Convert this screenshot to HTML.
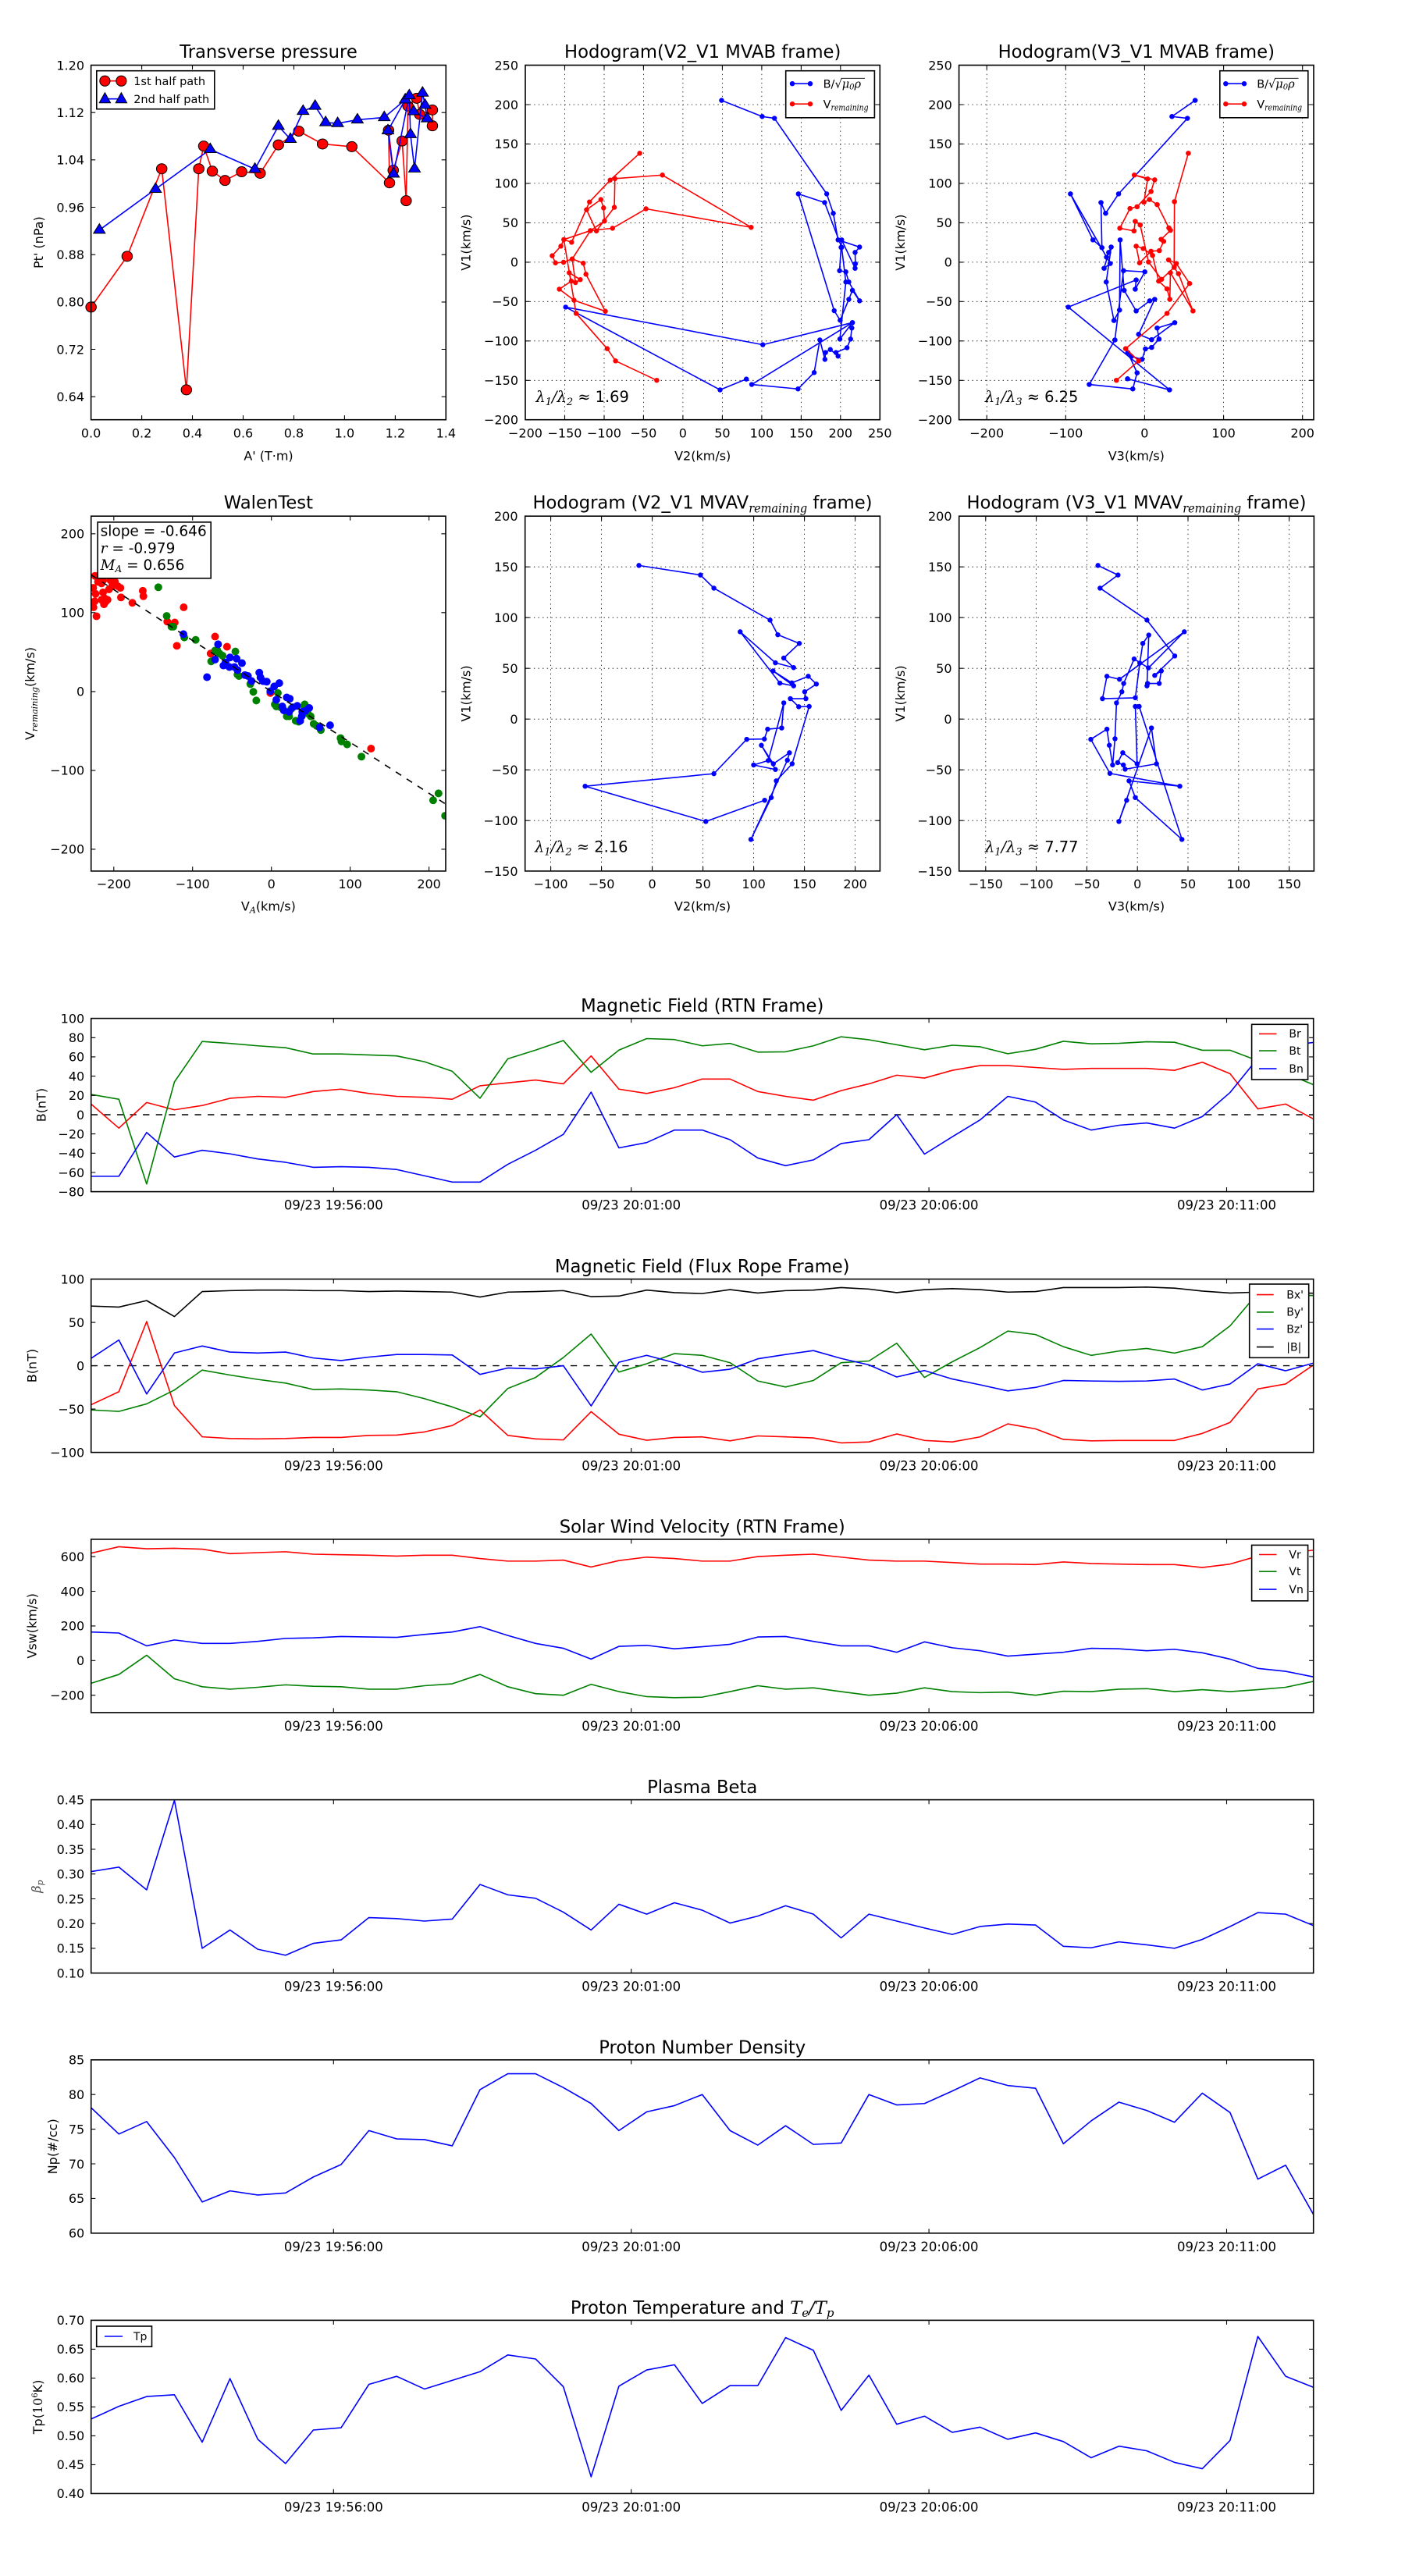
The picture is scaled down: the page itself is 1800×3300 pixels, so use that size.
<!DOCTYPE html>
<html>
<head>
<meta charset="utf-8">
<style>
html,body{margin:0;padding:0;background:#fff;}
svg{display:block;}
text{font-family:"DejaVu Sans","Liberation Sans",sans-serif;fill:#000;}
.t{font-size:16px;}
.ts{font-size:16.5px;}
.ti{font-size:22.7px;text-anchor:middle;}
.yl{font-size:16px;text-anchor:end;}
.xl{font-size:16px;text-anchor:middle;}
.xt{font-size:16.5px;text-anchor:middle;}
.lab{font-size:16px;text-anchor:middle;}
.m{font-family:"DejaVu Serif","Liberation Serif",serif;font-style:italic;}
.fr{fill:none;stroke:#000;stroke-width:1.6;}
.tk{fill:none;stroke:#000;stroke-width:1.1;}
.gr{fill:none;stroke:#000;stroke-width:0.8;stroke-dasharray:1.4 4.2;}
.ln{fill:none;stroke-width:1.6;stroke-linejoin:round;}
.lg{fill:#fff;stroke:#000;stroke-width:1.6;}
.lgt{font-size:14px;}
</style>
</head>
<body>
<svg width="1800" height="3300" viewBox="0 0 1800 3300" xmlns="http://www.w3.org/2000/svg">
<defs>
<marker id="dB" markerUnits="userSpaceOnUse" markerWidth="24" markerHeight="24" refX="12" refY="12" overflow="visible"><circle cx="12" cy="12" r="8.4" fill="#00f"/></marker>
<marker id="dR" markerUnits="userSpaceOnUse" markerWidth="24" markerHeight="24" refX="12" refY="12" overflow="visible"><circle cx="12" cy="12" r="8.4" fill="#f00"/></marker>
<marker id="cR" markerUnits="userSpaceOnUse" markerWidth="40" markerHeight="40" refX="20" refY="20" overflow="visible"><circle cx="20" cy="20" r="17" fill="#f00" stroke="#000" stroke-width="2.6"/></marker>
<marker id="tB" markerUnits="userSpaceOnUse" markerWidth="40" markerHeight="40" refX="20" refY="21" overflow="visible"><path d="M20 0L39 32H1Z" fill="#00f" stroke="#000" stroke-width="2.6"/></marker>
<clipPath id="c1"><rect x="116.7" y="1304.6" width="1566" height="222"/></clipPath>
<clipPath id="c2"><rect x="116.7" y="1638.6" width="1566" height="222"/></clipPath>
<clipPath id="c3"><rect x="116.7" y="1971.9" width="1566" height="222"/></clipPath>
<clipPath id="c4"><rect x="116.7" y="2305.6" width="1566" height="222"/></clipPath>
<clipPath id="c5"><rect x="116.7" y="2638.8" width="1566" height="222"/></clipPath>
<clipPath id="c6"><rect x="116.7" y="2972.4" width="1566" height="222"/></clipPath>
<clipPath id="cw"><rect x="116.7" y="661.2" width="454.3" height="454.7"/></clipPath>
</defs>
<rect x="0" y="0" width="1800" height="3300" fill="#fff"/>

<!-- ================= TOP ROW ================= -->
<!-- Panel 1: Transverse pressure -->
<text class="ti" x="344" y="74">Transverse pressure</text>
<g transform="matrix(0.39541,0,0,0.3827,0,0)">
<polyline class="ln" vector-effect="non-scaling-stroke" stroke="#f00" marker-start="url(#cR)" marker-mid="url(#cR)" marker-end="url(#cR)" points="295,1028 412,858 524,565 604,1305 644,565 660,489 688,573 729,604 783,575 843,580 902,485 968,439 1045,482 1140,491 1262,612 1259,436 1274,570 1303,472 1316,672 1322,355 1350,329 1360,383 1401,368 1401,421"/>
<polyline class="ln" vector-effect="non-scaling-stroke" stroke="#00f" marker-start="url(#tB)" marker-mid="url(#tB)" marker-end="url(#tB)" points="322,770 504,633 681,500 826,566 902,422 941,466 982,372 1021,355 1055,410 1094,413 1158,401 1245,393 1313,334 1257,437 1275,582 1326,320 1330,450 1343,565 1369,311 1377,352 1384,397 1340,373"/>
</g>
<rect class="fr" x="116.6" y="83.5" width="454.7" height="454.2"/>
<path class="tk" d="M181.6 537.7v-5.6M246.5 537.7v-5.6M311.5 537.7v-5.6M376.5 537.7v-5.6M441.4 537.7v-5.6M506.4 537.7v-5.6M181.6 83.5v5.6M246.5 83.5v5.6M311.5 83.5v5.6M376.5 83.5v5.6M441.4 83.5v5.6M506.4 83.5v5.6M116.6 144.2h5.6M116.6 204.8h5.6M116.6 265.5h5.6M116.6 326.2h5.6M116.6 386.9h5.6M116.6 447.5h5.6M116.6 508.2h5.6M571.3 144.2h-5.6M571.3 204.8h-5.6M571.3 265.5h-5.6M571.3 326.2h-5.6M571.3 386.9h-5.6M571.3 447.5h-5.6M571.3 508.2h-5.6"/>
<g class="xl"><text class="xl" x="116.6" y="560.5">0.0</text><text class="xl" x="181.6" y="560.5">0.2</text><text class="xl" x="246.5" y="560.5">0.4</text><text class="xl" x="311.5" y="560.5">0.6</text><text class="xl" x="376.5" y="560.5">0.8</text><text class="xl" x="441.4" y="560.5">1.0</text><text class="xl" x="506.4" y="560.5">1.2</text><text class="xl" x="571.3" y="560.5">1.4</text></g>
<text class="yl" x="108" y="89.3">1.20</text><text class="yl" x="108" y="150">1.12</text><text class="yl" x="108" y="210.6">1.04</text><text class="yl" x="108" y="271.3">0.96</text><text class="yl" x="108" y="332">0.88</text><text class="yl" x="108" y="392.7">0.80</text><text class="yl" x="108" y="453.3">0.72</text><text class="yl" x="108" y="514">0.64</text>
<text class="lab" x="344" y="589.5">A' (T·m)</text>
<text class="lab" transform="translate(55,310.6) rotate(-90)">Pt' (nPa)</text>
<rect class="lg" x="123.8" y="90.7" width="151" height="49"/>
<line x1="134.4" y1="103.7" x2="155.4" y2="103.7" stroke="#f00" stroke-width="1.6"/>
<circle cx="134.4" cy="103.7" r="6.6" fill="#f00" stroke="#000"/><circle cx="155.4" cy="103.7" r="6.6" fill="#f00" stroke="#000"/>
<text x="171.2" y="109" style="font-size:14.5px">1st half path</text>
<line x1="134.4" y1="126.7" x2="155.4" y2="126.7" stroke="#00f" stroke-width="1.6"/>
<path d="M134.4 118.7l7.2 13h-14.4zM155.4 118.7l7.2 13h-14.4z" fill="#00f" stroke="#000"/>
<text x="171.2" y="132" style="font-size:14.5px">2nd half path</text>

<!-- Panel 2: Hodogram V2_V1 MVAB -->
<text class="ti" x="900.2" y="74">Hodogram(V2_V1 MVAB frame)</text>
<path class="gr" d="M723.5 83.5V537.7M774 83.5V537.7M824.4 83.5V537.7M874.9 83.5V537.7M925.4 83.5V537.7M975.9 83.5V537.7M1026.4 83.5V537.7M1076.8 83.5V537.7M673 134H1127.3M673 184.4H1127.3M673 234.9H1127.3M673 285.4H1127.3M673 335.9H1127.3M673 386.3H1127.3M673 436.8H1127.3M673 487.3H1127.3"/>
<g transform="matrix(0.3827,0,0,0.3827,580,0)">
<polyline class="ln" vector-effect="non-scaling-stroke" stroke="#00f" marker-start="url(#dB)" marker-mid="url(#dB)" marker-end="url(#dB)" points="900,336 1036,390 1077,396 1252,649 1274,714 1290,803 1362,827 1347,845 1348,883 1347,898 1302,803 1300,828 1295,906 1316,910 1326,944 1362,1007 1338,972 1326,1002 1297,1072 1277,1040 1157,649 1245,678 1302,828 1316,944 1296,1135 1338,1080 1336,1098 1332,1135 1320,1164 1283,1180 1290,1192 1264,1170 1248,1180 1246,1203 1229,1138 1210,1247 1156,1302 1001,1287 1338,1080 1038,1154 378,1028 895,1305 983,1269"/>
<polyline class="ln" vector-effect="non-scaling-stroke" stroke="#f00" marker-start="url(#dR)" marker-mid="url(#dR)" marker-end="url(#dR)" points="626,513 527,603 458,676 398,811 372,802 362,824 333,856 344,880 371,878 400,867 437,881 446,918 511,1042 406,1005 357,968 397,941 390,913 427,936 411,946 400,867 461,772 508,740 505,696 496,668 448,702 481,773 541,694 543,598 702,586 999,761 647,699 535,764 461,772 372,802 413,1049 517,1167 545,1208 683,1273"/>
</g>
<rect class="fr" x="673" y="83.5" width="454.3" height="454.2"/>
<path class="tk" d="M723.5 537.7v-5.6M774 537.7v-5.6M824.4 537.7v-5.6M874.9 537.7v-5.6M925.4 537.7v-5.6M975.9 537.7v-5.6M1026.4 537.7v-5.6M1076.8 537.7v-5.6M723.5 83.5v5.6M774 83.5v5.6M824.4 83.5v5.6M874.9 83.5v5.6M925.4 83.5v5.6M975.9 83.5v5.6M1026.4 83.5v5.6M1076.8 83.5v5.6M673 134h5.6M673 184.4h5.6M673 234.9h5.6M673 285.4h5.6M673 335.9h5.6M673 386.3h5.6M673 436.8h5.6M673 487.3h5.6M1127.3 134h-5.6M1127.3 184.4h-5.6M1127.3 234.9h-5.6M1127.3 285.4h-5.6M1127.3 335.9h-5.6M1127.3 386.3h-5.6M1127.3 436.8h-5.6M1127.3 487.3h-5.6"/>
<text class="xl" x="673" y="560.5">−200</text><text class="xl" x="723.5" y="560.5">−150</text><text class="xl" x="774" y="560.5">−100</text><text class="xl" x="824.4" y="560.5">−50</text><text class="xl" x="874.9" y="560.5">0</text><text class="xl" x="925.4" y="560.5">50</text><text class="xl" x="975.9" y="560.5">100</text><text class="xl" x="1026.4" y="560.5">150</text><text class="xl" x="1076.8" y="560.5">200</text><text class="xl" x="1127.3" y="560.5">250</text>
<text class="yl" x="664" y="89.3">250</text><text class="yl" x="664" y="139.8">200</text><text class="yl" x="664" y="190.2">150</text><text class="yl" x="664" y="240.7">100</text><text class="yl" x="664" y="291.2">50</text><text class="yl" x="664" y="341.7">0</text><text class="yl" x="664" y="392.1">−50</text><text class="yl" x="664" y="442.6">−100</text><text class="yl" x="664" y="493.1">−150</text><text class="yl" x="664" y="543.5">−200</text>
<text class="lab" x="900.2" y="589.5">V2(km/s)</text>
<text class="lab" transform="translate(602.5,310.6) rotate(-90)">V1(km/s)</text>
<text x="686.4" y="515" style="font-size:19.4px"><tspan class="m">λ</tspan><tspan class="m" style="font-size:13px" dy="4">1</tspan><tspan class="m" dy="-4">/</tspan><tspan class="m">λ</tspan><tspan class="m" style="font-size:13px" dy="4">2</tspan><tspan class="m" dy="-4"> ≈ </tspan><tspan>1.69</tspan></text>
<rect class="lg" x="1006.7" y="90.7" width="113.7" height="60.1"/>
<line x1="1015" y1="107.2" x2="1038" y2="107.2" stroke="#00f" stroke-width="1.6"/><circle cx="1015" cy="107.2" r="3.2" fill="#00f"/><circle cx="1038" cy="107.2" r="3.2" fill="#00f"/>
<text x="1054.6" y="112.5" style="font-size:14.5px">B/<tspan style="font-family:'DejaVu Serif',serif">√</tspan><tspan class="m">μ</tspan><tspan class="m" style="font-size:10px" dy="2">0</tspan><tspan class="m" dy="-2">ρ</tspan></text>
<line x1="1077.5" y1="100.3" x2="1108" y2="100.3" stroke="#000" stroke-width="0.8"/>
<line x1="1015" y1="133.2" x2="1038" y2="133.2" stroke="#f00" stroke-width="1.6"/><circle cx="1015" cy="133.2" r="3.2" fill="#f00"/><circle cx="1038" cy="133.2" r="3.2" fill="#f00"/>
<text x="1054.6" y="138.5" style="font-size:14.5px">V<tspan class="m" style="font-size:11px" dy="3" textLength="48" lengthAdjust="spacingAndGlyphs">remaining</tspan></text>

<!-- Panel 3: Hodogram V3_V1 MVAB -->
<text class="ti" x="1455.8" y="74">Hodogram(V3_V1 MVAB frame)</text>
<path class="gr" d="M1264.2 83.5V537.7M1365.3 83.5V537.7M1466.4 83.5V537.7M1567.6 83.5V537.7M1668.7 83.5V537.7M1228.6 134H1683M1228.6 184.4H1683M1228.6 234.9H1683M1228.6 285.4H1683M1228.6 335.9H1683M1228.6 386.3H1683M1228.6 436.8H1683M1228.6 487.3H1683"/>
<g transform="matrix(0.39541,0,0,0.3827,1180,0)">
<polyline class="ln" vector-effect="non-scaling-stroke" stroke="#00f" marker-start="url(#dB)" marker-mid="url(#dB)" marker-end="url(#dB)" points="888,336 813,390 863,396 640,649 598,714 583,678 586,829 557,803 484,649 613,882 593,898 608,845 601,861 616,827 600,944 625,1073 643,1038 645,803 658,972 697,1041 741,1007 757,1002 705,1119 747,1137 822,1080 765,1098 771,1135 747,1163 727,1168 716,1203 681,1193 670,1180 700,1248 686,1302 545,1287 628,1138 656,906 725,910 694,968 697,937 477,1028 805,1305 669,1268"/>
<polyline class="ln" vector-effect="non-scaling-stroke" stroke="#f00" marker-start="url(#dR)" marker-mid="url(#dR)" marker-end="url(#dR)" points="633,1273 705,1208 663,1167 797,1049 870,949 827,882 802,870 834,916 881,1041 808,913 806,1002 797,967 770,941 750,855 720,832 697,824 708,880 745,841 772,839 786,808 778,801 808,771 803,763 765,685 740,668 722,677 734,599 691,586 757,602 745,641 700,692 677,698 644,764 690,773 694,741 710,753 737,877 779,935 820,895 821,675 866,513"/>
</g>
<rect class="fr" x="1228.6" y="83.5" width="454.4" height="454.2"/>
<path class="tk" d="M1264.2 537.7v-5.6M1365.3 537.7v-5.6M1466.4 537.7v-5.6M1567.6 537.7v-5.6M1668.7 537.7v-5.6M1264.2 83.5v5.6M1365.3 83.5v5.6M1466.4 83.5v5.6M1567.6 83.5v5.6M1668.7 83.5v5.6M1228.6 134h5.6M1228.6 184.4h5.6M1228.6 234.9h5.6M1228.6 285.4h5.6M1228.6 335.9h5.6M1228.6 386.3h5.6M1228.6 436.8h5.6M1228.6 487.3h5.6M1683 134h-5.6M1683 184.4h-5.6M1683 234.9h-5.6M1683 285.4h-5.6M1683 335.9h-5.6M1683 386.3h-5.6M1683 436.8h-5.6M1683 487.3h-5.6"/>
<text class="xl" x="1264.2" y="560.5">−200</text><text class="xl" x="1365.3" y="560.5">−100</text><text class="xl" x="1466.4" y="560.5">0</text><text class="xl" x="1567.6" y="560.5">100</text><text class="xl" x="1668.7" y="560.5">200</text>
<text class="yl" x="1219.8" y="89.3">250</text><text class="yl" x="1219.8" y="139.8">200</text><text class="yl" x="1219.8" y="190.2">150</text><text class="yl" x="1219.8" y="240.7">100</text><text class="yl" x="1219.8" y="291.2">50</text><text class="yl" x="1219.8" y="341.7">0</text><text class="yl" x="1219.8" y="392.1">−50</text><text class="yl" x="1219.8" y="442.6">−100</text><text class="yl" x="1219.8" y="493.1">−150</text><text class="yl" x="1219.8" y="543.5">−200</text>
<text class="lab" x="1455.8" y="589.5">V3(km/s)</text>
<text class="lab" transform="translate(1159,310.6) rotate(-90)">V1(km/s)</text>
<text x="1261.9" y="515" style="font-size:19.4px"><tspan class="m">λ</tspan><tspan class="m" style="font-size:13px" dy="4">1</tspan><tspan class="m" dy="-4">/</tspan><tspan class="m">λ</tspan><tspan class="m" style="font-size:13px" dy="4">3</tspan><tspan class="m" dy="-4"> ≈ </tspan><tspan>6.25</tspan></text>
<rect class="lg" x="1562.8" y="90.7" width="113" height="60.1"/>
<line x1="1570.3" y1="107.2" x2="1594" y2="107.2" stroke="#00f" stroke-width="1.6"/><circle cx="1570.3" cy="107.2" r="3.2" fill="#00f"/><circle cx="1594" cy="107.2" r="3.2" fill="#00f"/>
<text x="1610.2" y="112.5" style="font-size:14.5px">B/<tspan style="font-family:'DejaVu Serif',serif">√</tspan><tspan class="m">μ</tspan><tspan class="m" style="font-size:10px" dy="2">0</tspan><tspan class="m" dy="-2">ρ</tspan></text>
<line x1="1633" y1="100.3" x2="1663.5" y2="100.3" stroke="#000" stroke-width="0.8"/>
<line x1="1570.3" y1="133.2" x2="1594" y2="133.2" stroke="#f00" stroke-width="1.6"/><circle cx="1570.3" cy="133.2" r="3.2" fill="#f00"/><circle cx="1594" cy="133.2" r="3.2" fill="#f00"/>
<text x="1610.2" y="138.5" style="font-size:14.5px">V<tspan class="m" style="font-size:11px" dy="3" textLength="48" lengthAdjust="spacingAndGlyphs">remaining</tspan></text>

<!-- ================= ROW 2 ================= -->
<!-- Walen test -->
<text class="ti" x="343.9" y="651.7">WalenTest</text>
<g clip-path="url(#cw)">
<g transform="matrix(0.3827,0,0,0.3827,0,600)">
<path fill="none" stroke="#f00" stroke-width="26" stroke-linecap="round" d="M312 400h0M318 360h0M323 495h0M317 445h0M313 465h0M328 380h0M340 385h0M345 415h0M350 435h0M355 445h0M360 440h0M365 405h0M375 395h0M385 380h0M395 395h0M403 400h0M405 432h0M443 450h0M478 410h0M480 428h0M615 465h0M560 513h0M585 516h0M592 594h0M720 563h0M760 597h0M705 620h0M905 752h0M1242 938h0M330 360h0M345 375h0M370 375h0M380 370h0M340 440h0M348 455h0M320 420h0"/>
<path fill="none" stroke="#008000" stroke-width="26" stroke-linecap="round" d="M530 398h0M558 494h0M574 530h0M580 530h0M617 566h0M655 574h0M707 646h0M745 627h0M788 613h0M727 608h0M795 690h0M838 722h0M848 748h0M858 777h0M920 790h0M925 797h0M930 752h0M940 800h0M968 830h0M990 845h0M1000 848h0M1020 790h0M1040 830h0M1050 855h0M1060 862h0M1074 876h0M1140 903h0M1143 914h0M1162 924h0M1210 965h0M1450 1111h0M1468 1088h0M1490 1163h0M1020 800h0M1030 820h0M960 830h0M975 805h0M800 695h0M720 610h0M735 620h0"/>
<path fill="none" stroke="#00f" stroke-width="26" stroke-linecap="round" d="M614 555h0M730 589h0M693 699h0M720 640h0M748 660h0M770 633h0M792 637h0M810 652h0M795 675h0M820 692h0M768 665h0M842 712h0M868 684h0M880 712h0M872 700h0M893 714h0M905 746h0M918 730h0M935 719h0M925 775h0M945 797h0M960 767h0M970 771h0M968 815h0M980 800h0M995 795h0M1005 845h0M1012 815h0M1035 802h0M1070 867h0M1105 860h0M1010 830h0M1022 812h0M950 810h0M830 695h0M785 665h0M755 650h0"/>
</g>
<line x1="116.7" y1="736.5" x2="571" y2="1030.1" stroke="#000" stroke-width="1.6" stroke-dasharray="8.3 8.3"/>
</g>
<rect class="fr" x="116.7" y="661.2" width="454.3" height="454.7"/>
<path class="tk" d="M145.8 1115.9v-5.6M246.7 1115.9v-5.6M347.7 1115.9v-5.6M448.6 1115.9v-5.6M549.6 1115.9v-5.6M145.8 661.2v5.6M246.7 661.2v5.6M347.7 661.2v5.6M448.6 661.2v5.6M549.6 661.2v5.6M116.7 683.8h5.6M116.7 784.8h5.6M116.7 885.9h5.6M116.7 986.9h5.6M116.7 1087.9h5.6M571 683.8h-5.6M571 784.8h-5.6M571 885.9h-5.6M571 986.9h-5.6M571 1087.9h-5.6"/>
<text class="xl" x="145.8" y="1138">−200</text><text class="xl" x="246.7" y="1138">−100</text><text class="xl" x="347.7" y="1138">0</text><text class="xl" x="448.6" y="1138">100</text><text class="xl" x="549.6" y="1138">200</text>
<text class="yl" x="108.2" y="689.6">200</text><text class="yl" x="108.2" y="790.6">100</text><text class="yl" x="108.2" y="891.7">0</text><text class="yl" x="108.2" y="992.7">−100</text><text class="yl" x="108.2" y="1093.7">−200</text>
<text class="lab" x="343.9" y="1166.5">V<tspan class="m" style="font-size:11px" dy="3">A</tspan><tspan dy="-3">(km/s)</tspan></text>
<text class="lab" transform="translate(44,888.5) rotate(-90)">V<tspan class="m" style="font-size:11px" dy="4">remaining</tspan><tspan dy="-4">(km/s)</tspan></text>
<rect class="lg" x="125.1" y="668.9" width="145.1" height="71.9"/>
<text x="128.6" y="686.5" style="font-size:18.5px">slope = -0.646</text>
<text x="128.6" y="708.3" style="font-size:18.5px"><tspan class="m">r</tspan> = -0.979</text>
<text x="128.6" y="730.1" style="font-size:18.5px"><tspan class="m">M</tspan><tspan class="m" style="font-size:12px" dy="3">A</tspan><tspan dy="-3"> = 0.656</tspan></text>

<!-- Row2 middle: Hodogram V2_V1 MVAV -->
<text class="ti" x="900" y="651.7">Hodogram (V2_V1 MVAV<tspan class="m" style="font-size:16px" dy="5" textLength="75" lengthAdjust="spacingAndGlyphs">remaining</tspan><tspan dy="-5"> frame)</tspan></text>
<path class="gr" d="M705.6 661.2V1115.9M770.6 661.2V1115.9M835.6 661.2V1115.9M900.6 661.2V1115.9M965.6 661.2V1115.9M1030.6 661.2V1115.9M1095.6 661.2V1115.9M672.7 726.2H1127.4M672.7 791.2H1127.4M672.7 856.2H1127.4M672.7 921.2H1127.4M672.7 986.2H1127.4M672.7 1051.2H1127.4"/>
<g transform="matrix(0.3827,0,0,0.3827,600,600)">
<polyline class="ln" vector-effect="non-scaling-stroke" stroke="#00f" marker-start="url(#dB)" marker-mid="url(#dB)" marker-end="url(#dB)" points="571,325 777,357 822,401 1010,508 1036,557 1108,586 1056,635 1089,667 1028,651 910,547 1043,719 1089,728 1020,678 1083,718 1138,696 1165,722 1126,748 1130,771 1078,771 1106,798 1141,797 1084,989 1031,1046 1014,1102 946,1242 1068,977 1075,952 1021,989 981,927 1028,1008 955,993 1004,978 1056,785 1049,869 1002,873 991,906 932,907 822,1022 391,1064 795,1182 992,1111"/>
</g>
<rect class="fr" x="672.7" y="661.2" width="454.7" height="454.7"/>
<path class="tk" d="M705.6 1115.9v-5.6M770.6 1115.9v-5.6M835.6 1115.9v-5.6M900.6 1115.9v-5.6M965.6 1115.9v-5.6M1030.6 1115.9v-5.6M1095.6 1115.9v-5.6M705.6 661.2v5.6M770.6 661.2v5.6M835.6 661.2v5.6M900.6 661.2v5.6M965.6 661.2v5.6M1030.6 661.2v5.6M1095.6 661.2v5.6M672.7 726.2h5.6M672.7 791.2h5.6M672.7 856.2h5.6M672.7 921.2h5.6M672.7 986.2h5.6M672.7 1051.2h5.6M1127.4 726.2h-5.6M1127.4 791.2h-5.6M1127.4 856.2h-5.6M1127.4 921.2h-5.6M1127.4 986.2h-5.6M1127.4 1051.2h-5.6"/>
<text class="xl" x="705.6" y="1138">−100</text><text class="xl" x="770.6" y="1138">−50</text><text class="xl" x="835.6" y="1138">0</text><text class="xl" x="900.6" y="1138">50</text><text class="xl" x="965.6" y="1138">100</text><text class="xl" x="1030.6" y="1138">150</text><text class="xl" x="1095.6" y="1138">200</text>
<text class="yl" x="663.5" y="667">200</text><text class="yl" x="663.5" y="732">150</text><text class="yl" x="663.5" y="797">100</text><text class="yl" x="663.5" y="862">50</text><text class="yl" x="663.5" y="927">0</text><text class="yl" x="663.5" y="992">−50</text><text class="yl" x="663.5" y="1057">−100</text><text class="yl" x="663.5" y="1122">−150</text>
<text class="lab" x="900" y="1166.5">V2(km/s)</text>
<text class="lab" transform="translate(602.5,888.5) rotate(-90)">V1(km/s)</text>
<text x="685" y="1091.5" style="font-size:19.4px"><tspan class="m">λ</tspan><tspan class="m" style="font-size:13px" dy="4">1</tspan><tspan class="m" dy="-4">/</tspan><tspan class="m">λ</tspan><tspan class="m" style="font-size:13px" dy="4">2</tspan><tspan class="m" dy="-4"> ≈ </tspan><tspan>2.16</tspan></text>

<!-- Row2 right: Hodogram V3_V1 MVAV -->
<text class="ti" x="1456" y="651.7">Hodogram (V3_V1 MVAV<tspan class="m" style="font-size:16px" dy="5" textLength="75" lengthAdjust="spacingAndGlyphs">remaining</tspan><tspan dy="-5"> frame)</tspan></text>
<path class="gr" d="M1262.8 661.2V1115.9M1327.6 661.2V1115.9M1392.4 661.2V1115.9M1457.2 661.2V1115.9M1522 661.2V1115.9M1586.8 661.2V1115.9M1651.6 661.2V1115.9M1228.7 726.2H1683.4M1228.7 791.2H1683.4M1228.7 856.2H1683.4M1228.7 921.2H1683.4M1228.7 986.2H1683.4M1228.7 1051.2H1683.4"/>
<g transform="matrix(0.3827,0,0,0.3827,1200,600)">
<polyline class="ln" vector-effect="non-scaling-stroke" stroke="#00f" marker-start="url(#dB)" marker-mid="url(#dB)" marker-end="url(#dB)" points="540,325 607,357 547,401 704,508 797,628 730,693 752,678 745,720 706,720 704,728 710,558 690,586 680,652 665,768 555,771 570,696 612,706 829,547 709,668 661,638 626,720 620,748 602,785 597,905 589,993 578,927 570,873 516,907 580,1021 814,1064 644,1046 665,1102 821,1242 678,797 665,797 671,989 623,952 606,985 625,993 631,1007 736,989 719,869 610,1182 636,1111"/>
</g>
<rect class="fr" x="1228.7" y="661.2" width="454.7" height="454.7"/>
<path class="tk" d="M1262.8 1115.9v-5.6M1327.6 1115.9v-5.6M1392.4 1115.9v-5.6M1457.2 1115.9v-5.6M1522 1115.9v-5.6M1586.8 1115.9v-5.6M1651.6 1115.9v-5.6M1262.8 661.2v5.6M1327.6 661.2v5.6M1392.4 661.2v5.6M1457.2 661.2v5.6M1522 661.2v5.6M1586.8 661.2v5.6M1651.6 661.2v5.6M1228.7 726.2h5.6M1228.7 791.2h5.6M1228.7 856.2h5.6M1228.7 921.2h5.6M1228.7 986.2h5.6M1228.7 1051.2h5.6M1683.4 726.2h-5.6M1683.4 791.2h-5.6M1683.4 856.2h-5.6M1683.4 921.2h-5.6M1683.4 986.2h-5.6M1683.4 1051.2h-5.6"/>
<text class="xl" x="1262.8" y="1138">−150</text><text class="xl" x="1327.6" y="1138">−100</text><text class="xl" x="1392.4" y="1138">−50</text><text class="xl" x="1457.2" y="1138">0</text><text class="xl" x="1522" y="1138">50</text><text class="xl" x="1586.8" y="1138">100</text><text class="xl" x="1651.6" y="1138">150</text>
<text class="yl" x="1219.5" y="667">200</text><text class="yl" x="1219.5" y="732">150</text><text class="yl" x="1219.5" y="797">100</text><text class="yl" x="1219.5" y="862">50</text><text class="yl" x="1219.5" y="927">0</text><text class="yl" x="1219.5" y="992">−50</text><text class="yl" x="1219.5" y="1057">−100</text><text class="yl" x="1219.5" y="1122">−150</text>
<text class="lab" x="1456" y="1166.5">V3(km/s)</text>
<text class="lab" transform="translate(1159,888.5) rotate(-90)">V1(km/s)</text>
<text x="1262" y="1091.5" style="font-size:19.4px"><tspan class="m">λ</tspan><tspan class="m" style="font-size:13px" dy="4">1</tspan><tspan class="m" dy="-4">/</tspan><tspan class="m">λ</tspan><tspan class="m" style="font-size:13px" dy="4">3</tspan><tspan class="m" dy="-4"> ≈ </tspan><tspan>7.77</tspan></text>

<!-- ================= TIME SERIES ================= -->
<!-- TS1: Magnetic Field RTN -->
<text class="ti" x="899.7" y="1296.1">Magnetic Field (RTN Frame)</text>
<line x1="116.7" y1="1428" x2="1682.7" y2="1428" stroke="#000" stroke-width="1.4" stroke-dasharray="8.3 8.3"/>
<g clip-path="url(#c1)"><g transform="matrix(35.59,0,0,-1.23333,116.7,1427.93)">
<polyline class="ln" vector-effect="non-scaling-stroke" stroke="#f00" points="0,11 1,-14 2,12.6 3,5 4,9.5 5,17 6,19 7,18 8,24 9,26.5 10,22 11,19 12,18 13,16 14,30 15,33 16,36 17,32 18,61 19,26.5 20,22 21,28 22,37 23,37 24,24 25,19 26,15 27,25 28,32 29,41 30,38 31,46 32,51 33,51 34,49 35,47 36,48 37,48 38,48 39,46 40,54.5 41,42.5 42,6 43,11 44,-4.5"/>
<polyline class="ln" vector-effect="non-scaling-stroke" stroke="#008000" points="0,21 1,16 2,-72 3,34 4,76 5,74 6,71.5 7,69.5 8,63 9,63 10,62 11,61 12,55 13,45 14,17 15,58 16,67 17,77 18,44 19,67 20,79 21,78 22,71.5 23,74 24,65 25,65.3 26,71.5 27,80.9 28,77.8 29,72.6 30,67.4 31,72.1 32,70.5 33,63.3 34,67.9 35,76.2 36,73.6 37,74.1 38,75.7 39,75.2 40,66.9 41,66.9 42,56 43,43 44,31.2"/>
<polyline class="ln" vector-effect="non-scaling-stroke" stroke="#00f" points="0,-64 1,-64 2,-18.5 3,-44 4,-37 5,-40.7 6,-46 7,-49.5 8,-54.7 9,-54 10,-54.7 11,-57 12,-63.5 13,-70 14,-70 15,-51.6 16,-37 17,-20.5 18,23.4 19,-34.5 20,-29 21,-16 22,-16 23,-26 24,-45 25,-53 26,-47 27,-30 28,-26 29,0 30,-41 31,-23 32,-5.5 33,19 34,13 35,-5.5 36,-16 37,-11 38,-8.6 39,-14 40,-2 41,23 42,58.6 43,71.5 44,75"/>
</g></g>
<rect class="fr" x="116.7" y="1304.6" width="1566" height="222"/>
<path class="tk" d="M427.3 1526.6v-5.6M808.7 1526.6v-5.6M1190.1 1526.6v-5.6M1571.5 1526.6v-5.6M427.3 1304.6v5.6M808.7 1304.6v5.6M1190.1 1304.6v5.6M1571.5 1304.6v5.6M116.7 1329.3h5.6M116.7 1353.9h5.6M116.7 1378.6h5.6M116.7 1403.3h5.6M116.7 1428h5.6M116.7 1452.6h5.6M116.7 1477.3h5.6M116.7 1502h5.6M1682.7 1329.3h-5.6M1682.7 1353.9h-5.6M1682.7 1378.6h-5.6M1682.7 1403.3h-5.6M1682.7 1428h-5.6M1682.7 1452.6h-5.6M1682.7 1477.3h-5.6M1682.7 1502h-5.6"/>
<text class="xt" x="427.3" y="1549.6">09/23 19:56:00</text><text class="xt" x="808.7" y="1549.6">09/23 20:01:00</text><text class="xt" x="1190.1" y="1549.6">09/23 20:06:00</text><text class="xt" x="1571.5" y="1549.6">09/23 20:11:00</text>
<text class="yl" x="108.2" y="1310.4">100</text><text class="yl" x="108.2" y="1335.1">80</text><text class="yl" x="108.2" y="1359.7">60</text><text class="yl" x="108.2" y="1384.4">40</text><text class="yl" x="108.2" y="1409.1">20</text><text class="yl" x="108.2" y="1433.8">0</text><text class="yl" x="108.2" y="1458.4">−20</text><text class="yl" x="108.2" y="1483.1">−40</text><text class="yl" x="108.2" y="1507.8">−60</text><text class="yl" x="108.2" y="1532.4">−80</text>
<text class="lab" transform="translate(58.5,1415.6) rotate(-90)">B(nT)</text>
<rect class="lg" x="1603.6" y="1312.3" width="72" height="70.7"/>
<line x1="1613" y1="1324.4" x2="1635.5" y2="1324.4" stroke="#f00" stroke-width="1.6"/><text class="lgt" x="1651.4" y="1329.2">Br</text>
<line x1="1613" y1="1346.1" x2="1635.5" y2="1346.1" stroke="#008000" stroke-width="1.6"/><text class="lgt" x="1651.4" y="1350.9">Bt</text>
<line x1="1613" y1="1369.1" x2="1635.5" y2="1369.1" stroke="#00f" stroke-width="1.6"/><text class="lgt" x="1651.4" y="1373.9">Bn</text>

<!-- TS2: Flux Rope Frame -->
<text class="ti" x="899.7" y="1630.1">Magnetic Field (Flux Rope Frame)</text>
<line x1="116.7" y1="1749.6" x2="1682.7" y2="1749.6" stroke="#000" stroke-width="1.4" stroke-dasharray="8.3 8.3"/>
<g clip-path="url(#c2)"><g transform="matrix(35.59,0,0,-1.11,116.7,1749.6)">
<polyline class="ln" vector-effect="non-scaling-stroke" stroke="#f00" points="0,-45 1,-30 2,51 3,-46 4,-82 5,-84 6,-84.4 7,-84 8,-82.7 9,-82.7 10,-80.4 11,-80 12,-76.4 13,-69 14,-51 15,-80.4 16,-84.4 17,-85.6 18,-53 19,-79 20,-86 21,-82.7 22,-82.1 23,-86.7 24,-81 25,-82.1 26,-83.3 27,-89 28,-87.9 29,-78.7 30,-86.2 31,-87.9 32,-82.1 33,-67.1 34,-72.9 35,-85 36,-86.7 37,-86.2 38,-86.2 39,-86.2 40,-78.1 41,-65.4 42,-26.8 43,-21 44,0.9"/>
<polyline class="ln" vector-effect="non-scaling-stroke" stroke="#008000" points="0,-51 1,-52.7 2,-44 3,-28 4,-5 5,-10.7 6,-15.8 7,-20 8,-27.4 9,-26.8 10,-28 11,-30 12,-38 13,-47.5 14,-59 15,-26.2 16,-13.5 17,9.5 18,36.6 19,-7.2 20,2.3 21,14 22,12 23,3.5 24,-17.6 25,-24.5 26,-17 27,3.5 28,5.5 29,26 30,-13.5 31,4.6 32,21 33,40 34,36 35,22 36,12 37,17 38,20 39,14.6 40,22 41,46 42,84 43,82 44,81"/>
<polyline class="ln" vector-effect="non-scaling-stroke" stroke="#00f" points="0,8.6 1,29.7 2,-32.6 3,14.7 4,22.8 5,15.8 6,14.7 7,15.8 8,9 9,6 10,10 11,13 12,13 13,12.4 14,-10 15,-2.6 16,-3.7 17,0 18,-46.4 19,4 20,12 21,3.5 22,-7.5 23,-4 24,8 25,13 26,17.5 27,8.4 28,1 29,-13 30,-5.5 31,-15.3 32,-22 33,-29 34,-25 35,-17 36,-17.6 37,-18 38,-17.6 39,-15.3 40,-28 41,-21 42,2.3 43,-5.8 44,3"/>
<polyline class="ln" vector-effect="non-scaling-stroke" stroke="#000" points="0,68.9 1,67.7 2,75.2 3,56.8 4,85.6 5,86.7 6,87.3 7,87.3 8,86.7 9,86.7 10,85.6 11,86.2 12,85.6 13,85 14,79.3 15,85 16,85.6 17,86.7 18,79.8 19,80.4 20,87.3 21,84.4 22,83.3 23,87.9 24,83.9 25,86.7 26,87.3 27,90.2 28,88.5 29,84.4 30,87.9 31,89 32,87.9 33,85 34,85.6 35,90.2 36,90.2 37,90.2 38,90.8 39,89.6 40,86.2 41,83.9 42,85 43,84.5 44,83.7"/>
</g></g>
<rect class="fr" x="116.7" y="1638.6" width="1566" height="222"/>
<path class="tk" d="M427.3 1860.6v-5.6M808.7 1860.6v-5.6M1190.1 1860.6v-5.6M1571.5 1860.6v-5.6M427.3 1638.6v5.6M808.7 1638.6v5.6M1190.1 1638.6v5.6M1571.5 1638.6v5.6M116.7 1694.1h5.6M116.7 1749.6h5.6M116.7 1805.1h5.6M1682.7 1694.1h-5.6M1682.7 1749.6h-5.6M1682.7 1805.1h-5.6"/>
<text class="xt" x="427.3" y="1883.6">09/23 19:56:00</text><text class="xt" x="808.7" y="1883.6">09/23 20:01:00</text><text class="xt" x="1190.1" y="1883.6">09/23 20:06:00</text><text class="xt" x="1571.5" y="1883.6">09/23 20:11:00</text>
<text class="yl" x="108.2" y="1644.4">100</text><text class="yl" x="108.2" y="1699.9">50</text><text class="yl" x="108.2" y="1755.4">0</text><text class="yl" x="108.2" y="1810.9">−50</text><text class="yl" x="108.2" y="1866.4">−100</text>
<text class="lab" transform="translate(46.3,1749.6) rotate(-90)">B(nT)</text>
<rect class="lg" x="1600.7" y="1645" width="76" height="94.3"/>
<line x1="1610" y1="1658.6" x2="1631.7" y2="1658.6" stroke="#f00" stroke-width="1.6"/><text class="lgt" x="1648.3" y="1663.4">Bx'</text>
<line x1="1610" y1="1680.9" x2="1631.7" y2="1680.9" stroke="#008000" stroke-width="1.6"/><text class="lgt" x="1648.3" y="1685.7">By'</text>
<line x1="1610" y1="1702.6" x2="1631.7" y2="1702.6" stroke="#00f" stroke-width="1.6"/><text class="lgt" x="1648.3" y="1707.4">Bz'</text>
<line x1="1610" y1="1725.6" x2="1631.7" y2="1725.6" stroke="#000" stroke-width="1.6"/><text class="lgt" x="1648.3" y="1730.4">|B|</text>

<!-- TS3: Solar Wind Velocity -->
<text class="ti" x="899.7" y="1963.4">Solar Wind Velocity (RTN Frame)</text>
<g clip-path="url(#c3)"><g transform="matrix(35.59,0,0,-0.222,116.7,2127.3)">
<polyline class="ln" vector-effect="non-scaling-stroke" stroke="#f00" points="0,620 1,657 2,645 3,648 4,643 5,617 6,623 7,628 8,614 9,611 10,608 11,603 12,608 13,608 14,589 15,574 16,574 17,580 18,540 19,577 20,597 21,589 22,574 23,574 24,600 25,608 26,614 27,597 28,580 29,574 30,574 31,566 32,557 33,557 34,554 35,569 36,560 37,557 38,554 39,554 40,537 41,557 42,603 43,620 44,637"/>
<polyline class="ln" vector-effect="non-scaling-stroke" stroke="#008000" points="0,-131 1,-80 2,31 3,-105 4,-151 5,-165 6,-154 7,-140 8,-148 9,-151 10,-165 11,-165 12,-145 13,-134 14,-80 15,-151 16,-191 17,-200 18,-137 19,-179 20,-208 21,-214 22,-211 23,-179 24,-145 25,-165 26,-157 27,-179 28,-200 29,-188 30,-157 31,-179 32,-185 33,-182 34,-200 35,-177 36,-179 37,-165 38,-162 39,-179 40,-168 41,-179 42,-168 43,-154 44,-120"/>
<polyline class="ln" vector-effect="non-scaling-stroke" stroke="#00f" points="0,165 1,159 2,85 3,119 4,99 5,99 6,111 7,128 8,131 9,139 10,136 11,134 12,151 13,165 14,196 15,145 16,99 17,71 18,8.5 19,82 20,88 21,68 22,80 23,94 24,136 25,139 26,111 27,85 28,85 29,48 30,108 31,74 32,57 33,26 34,37 35,48 36,71 37,68 38,57 39,65 40,45 41,8.5 42,-45 43,-62 44,-94"/>
</g></g>
<rect class="fr" x="116.7" y="1971.9" width="1566" height="222"/>
<path class="tk" d="M427.3 2193.9v-5.6M808.7 2193.9v-5.6M1190.1 2193.9v-5.6M1571.5 2193.9v-5.6M427.3 1971.9v5.6M808.7 1971.9v5.6M1190.1 1971.9v5.6M1571.5 1971.9v5.6M116.7 1994.1h5.6M116.7 2038.5h5.6M116.7 2082.9h5.6M116.7 2127.3h5.6M116.7 2171.7h5.6M1682.7 1994.1h-5.6M1682.7 2038.5h-5.6M1682.7 2082.9h-5.6M1682.7 2127.3h-5.6M1682.7 2171.7h-5.6"/>
<text class="xt" x="427.3" y="2216.9">09/23 19:56:00</text><text class="xt" x="808.7" y="2216.9">09/23 20:01:00</text><text class="xt" x="1190.1" y="2216.9">09/23 20:06:00</text><text class="xt" x="1571.5" y="2216.9">09/23 20:11:00</text>
<text class="yl" x="108.2" y="1999.9">600</text><text class="yl" x="108.2" y="2044.3">400</text><text class="yl" x="108.2" y="2088.7">200</text><text class="yl" x="108.2" y="2133.1">0</text><text class="yl" x="108.2" y="2177.5">−200</text>
<text class="lab" transform="translate(46.3,2082.9) rotate(-90)">Vsw(km/s)</text>
<rect class="lg" x="1603.6" y="1979.4" width="72" height="71.4"/>
<line x1="1613" y1="1991.5" x2="1635.5" y2="1991.5" stroke="#f00" stroke-width="1.6"/><text class="lgt" x="1651.4" y="1996.3">Vr</text>
<line x1="1613" y1="2013.2" x2="1635.5" y2="2013.2" stroke="#008000" stroke-width="1.6"/><text class="lgt" x="1651.4" y="2018">Vt</text>
<line x1="1613" y1="2036.1" x2="1635.5" y2="2036.1" stroke="#00f" stroke-width="1.6"/><text class="lgt" x="1651.4" y="2040.9">Vn</text>

<!-- TS4: Plasma Beta -->
<text class="ti" x="899.7" y="2297.1">Plasma Beta</text>
<g clip-path="url(#c4)"><g transform="matrix(35.59,0,0,-634.29,116.7,2591.03)">
<polyline class="ln" vector-effect="non-scaling-stroke" stroke="#00f" points="0,0.305 1,0.314 2,0.268 3,0.449 4,0.150 5,0.187 6,0.148 7,0.136 8,0.160 9,0.167 10,0.212 11,0.210 12,0.205 13,0.209 14,0.279 15,0.258 16,0.251 17,0.223 18,0.187 19,0.239 20,0.219 21,0.242 22,0.227 23,0.201 24,0.215 25,0.236 26,0.219 27,0.171 28,0.219 29,0.205 30,0.191 31,0.178 32,0.194 33,0.199 34,0.197 35,0.154 36,0.151 37,0.163 38,0.157 39,0.150 40,0.168 41,0.194 42,0.222 43,0.219 44,0.196"/>
</g></g>
<rect class="fr" x="116.7" y="2305.6" width="1566" height="222"/>
<path class="tk" d="M427.3 2527.6v-5.6M808.7 2527.6v-5.6M1190.1 2527.6v-5.6M1571.5 2527.6v-5.6M427.3 2305.6v5.6M808.7 2305.6v5.6M1190.1 2305.6v5.6M1571.5 2305.6v5.6M116.7 2337.3h5.6M116.7 2369h5.6M116.7 2400.7h5.6M116.7 2432.5h5.6M116.7 2464.2h5.6M116.7 2495.9h5.6M1682.7 2337.3h-5.6M1682.7 2369h-5.6M1682.7 2400.7h-5.6M1682.7 2432.5h-5.6M1682.7 2464.2h-5.6M1682.7 2495.9h-5.6"/>
<text class="xt" x="427.3" y="2550.6">09/23 19:56:00</text><text class="xt" x="808.7" y="2550.6">09/23 20:01:00</text><text class="xt" x="1190.1" y="2550.6">09/23 20:06:00</text><text class="xt" x="1571.5" y="2550.6">09/23 20:11:00</text>
<text class="yl" x="108.2" y="2311.4">0.45</text><text class="yl" x="108.2" y="2343.1">0.40</text><text class="yl" x="108.2" y="2374.8">0.35</text><text class="yl" x="108.2" y="2406.5">0.30</text><text class="yl" x="108.2" y="2438.3">0.25</text><text class="yl" x="108.2" y="2470">0.20</text><text class="yl" x="108.2" y="2501.7">0.15</text><text class="yl" x="108.2" y="2533.4">0.10</text>
<text class="lab" transform="translate(52,2416.6) rotate(-90)" style="fill:#444"><tspan class="m" style="fill:#444">β</tspan><tspan class="m" style="font-size:11px;fill:#444" dy="3">p</tspan></text>

<!-- TS5: Proton Number Density -->
<text class="ti" x="899.7" y="2630.3">Proton Number Density</text>
<g clip-path="url(#c5)"><g transform="matrix(35.59,0,0,-8.88,116.7,3393.6)">
<polyline class="ln" vector-effect="non-scaling-stroke" stroke="#00f" points="0,78.1 1,74.3 2,76.1 3,70.9 4,64.5 5,66.1 6,65.5 7,65.8 8,68.1 9,69.9 10,74.8 11,73.6 12,73.5 13,72.6 14,80.7 15,83 16,83 17,81 18,78.7 19,74.8 20,77.5 21,78.4 22,80 23,74.8 24,72.7 25,75.5 26,72.8 27,73 28,80 29,78.5 30,78.7 31,80.5 32,82.4 33,81.3 34,80.9 35,72.9 36,76.2 37,78.9 38,77.7 39,76 40,80.2 41,77.4 42,67.8 43,69.8 44,62.7"/>
</g></g>
<rect class="fr" x="116.7" y="2638.8" width="1566" height="222"/>
<path class="tk" d="M427.3 2860.8v-5.6M808.7 2860.8v-5.6M1190.1 2860.8v-5.6M1571.5 2860.8v-5.6M427.3 2638.8v5.6M808.7 2638.8v5.6M1190.1 2638.8v5.6M1571.5 2638.8v5.6M116.7 2683.2h5.6M116.7 2727.6h5.6M116.7 2772h5.6M116.7 2816.4h5.6M1682.7 2683.2h-5.6M1682.7 2727.6h-5.6M1682.7 2772h-5.6M1682.7 2816.4h-5.6"/>
<text class="xt" x="427.3" y="2883.8">09/23 19:56:00</text><text class="xt" x="808.7" y="2883.8">09/23 20:01:00</text><text class="xt" x="1190.1" y="2883.8">09/23 20:06:00</text><text class="xt" x="1571.5" y="2883.8">09/23 20:11:00</text>
<text class="yl" x="108.2" y="2644.6">85</text><text class="yl" x="108.2" y="2689">80</text><text class="yl" x="108.2" y="2733.4">75</text><text class="yl" x="108.2" y="2777.8">70</text><text class="yl" x="108.2" y="2822.2">65</text><text class="yl" x="108.2" y="2866.6">60</text>
<text class="lab" transform="translate(73,2749.8) rotate(-90)">Np(#/cc)</text>

<!-- TS6: Proton Temperature -->
<text class="ti" x="899.7" y="2963.9">Proton Temperature and <tspan class="m">T</tspan><tspan class="m" style="font-size:15px" dy="4">e</tspan><tspan class="m" dy="-4">/T</tspan><tspan class="m" style="font-size:15px" dy="4">p</tspan></text>
<g clip-path="url(#c6)"><g transform="matrix(35.59,0,0,-740,116.7,3490.4)">
<polyline class="ln" vector-effect="non-scaling-stroke" stroke="#00f" points="0,0.529 1,0.551 2,0.568 3,0.571 4,0.489 5,0.599 6,0.494 7,0.452 8,0.510 9,0.514 10,0.589 11,0.603 12,0.581 13,0.596 14,0.611 15,0.640 16,0.633 17,0.585 18,0.429 19,0.586 20,0.614 21,0.623 22,0.556 23,0.587 24,0.587 25,0.670 26,0.648 27,0.544 28,0.605 29,0.520 30,0.534 31,0.506 32,0.515 33,0.494 34,0.505 35,0.490 36,0.462 37,0.482 38,0.474 39,0.454 40,0.443 41,0.492 42,0.672 43,0.603 44,0.584"/>
</g></g>
<rect class="fr" x="116.7" y="2972.4" width="1566" height="222"/>
<path class="tk" d="M427.3 3194.4v-5.6M808.7 3194.4v-5.6M1190.1 3194.4v-5.6M1571.5 3194.4v-5.6M427.3 2972.4v5.6M808.7 2972.4v5.6M1190.1 2972.4v5.6M1571.5 2972.4v5.6M116.7 3009.4h5.6M116.7 3046.4h5.6M116.7 3083.4h5.6M116.7 3120.4h5.6M116.7 3157.4h5.6M1682.7 3009.4h-5.6M1682.7 3046.4h-5.6M1682.7 3083.4h-5.6M1682.7 3120.4h-5.6M1682.7 3157.4h-5.6"/>
<text class="xt" x="427.3" y="3217.4">09/23 19:56:00</text><text class="xt" x="808.7" y="3217.4">09/23 20:01:00</text><text class="xt" x="1190.1" y="3217.4">09/23 20:06:00</text><text class="xt" x="1571.5" y="3217.4">09/23 20:11:00</text>
<text class="yl" x="108.2" y="2978.2">0.70</text><text class="yl" x="108.2" y="3015.2">0.65</text><text class="yl" x="108.2" y="3052.2">0.60</text><text class="yl" x="108.2" y="3089.2">0.55</text><text class="yl" x="108.2" y="3126.2">0.50</text><text class="yl" x="108.2" y="3163.2">0.45</text><text class="yl" x="108.2" y="3200.2">0.40</text>
<text class="lab" transform="translate(54,3083.4) rotate(-90)">Tp(<tspan style="font-family:'DejaVu Serif',serif">10</tspan><tspan style="font-family:'DejaVu Serif',serif;font-size:10px" dy="-6">6</tspan><tspan dy="6">K)</tspan></text>
<rect class="lg" x="123.7" y="2980" width="70.8" height="26.2"/>
<line x1="134" y1="2993" x2="157" y2="2993" stroke="#00f" stroke-width="1.6"/>
<text class="lgt" x="171" y="2998">Tp</text>
</svg>
</body>
</html>
